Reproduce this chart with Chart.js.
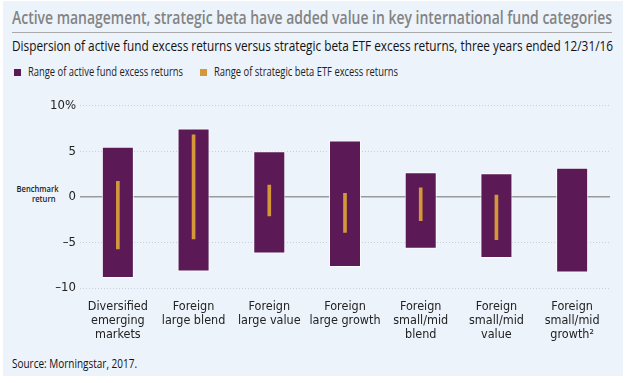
<!DOCTYPE html>
<html>
<head>
<meta charset="utf-8">
<script src="https://cdn.jsdelivr.net/npm/chart.js@4.4.1/dist/chart.umd.min.js"></script>
<style>
  html, body { margin:0; padding:0; background:#ffffff; }
  body { width:628px; height:383px; position:relative; overflow:hidden;
         font-family:"Open Sans","Noto Sans",sans-serif; }
  #panel { position:absolute; left:3px; top:1px; width:620px; height:375px; background:#EDF3FB; }
  .t { position:absolute; white-space:nowrap; transform-origin:0 50%; }
  #title { left:12px; top:5px; font-size:18px; font-weight:600; color:#838383; }
  #rule { position:absolute; left:12px; top:32px; width:600px; height:1px; background:#a9a9a9; }
  #subtitle { left:12px; top:35px; font-size:15px; color:#111; }
  .sw { position:absolute; width:7px; height:7px; top:69px; }
  .lg { top:63px; font-size:12px; color:#222; }
  #bench { position:absolute; left:6px; top:184px; width:50px; text-align:right; font-size:9.5px; line-height:10px; font-weight:600; color:#222; }
  #bench span { display:inline-block; transform:scaleX(0.8); transform-origin:100% 50%; }
  #source { left:12px; top:355px; font-size:12px; color:#111; }
  #wrap { position:absolute; left:0; top:94px; width:628px; height:263px; }
</style>
</head>
<body>
<div id="panel"></div>
<div class="t" id="title" data-w="600">Active management, strategic beta have added value in key international fund categories</div>
<div id="rule"></div>
<div class="t" id="subtitle" data-w="601">Dispersion of active fund excess returns versus strategic beta ETF excess returns, three years ended 12/31/16</div>
<div class="sw" style="left:14px;background:#5B1A55"></div>
<div class="t lg" data-w="155" style="left:28px">Range of active fund excess returns</div>
<div class="sw" style="left:200px;background:#D4973A"></div>
<div class="t lg" data-w="184" style="left:214px">Range of strategic beta ETF excess returns</div>
<div id="bench"><span>Benchmark</span><br><span>return</span></div>
<div class="t" id="source" data-w="125">Source: Morningstar, 2017.</div>
<div id="wrap"><canvas id="c"></canvas></div>
<script>
const categories = [
  ["Diversified","emerging","markets"],
  ["Foreign","large blend"],
  ["Foreign","large value"],
  ["Foreign","large growth"],
  ["Foreign","small/mid","blend"],
  ["Foreign","small/mid","value"],
  ["Foreign","small/mid","growth\u00B2"]
];
const activeLow  = [-8.9, -8.2, -6.2, -7.7, -5.7, -6.7, -8.3];
const activeHigh = [ 5.5,  7.5,  5.0,  6.2,  2.7,  2.6,  3.2];
const etfLow     = [-5.7, -4.6, -2.1, -3.9, -2.6, -4.7, null];
const etfHigh    = [ 1.7,  6.8,  1.3,  0.4,  1.0,  0.2, null];
const yTicks = [-10, -5, 0, 5, 10];
const yTickLabels = {"-10":"\u201310", "-5":"\u20135", "0":"0", "5":"5", "10":"10%"};

document.querySelectorAll('[data-w]').forEach(el => {
  const w = el.getBoundingClientRect().width;
  const target = parseFloat(el.dataset.w);
  el.style.transform = 'scaleX(' + (target / w) + ')';
});

const FONT = '"DejaVu Sans Condensed",sans-serif';

const activeData = activeLow.map((v,i)=>[v, activeHigh[i]]);
const etfData = etfLow.map((v,i)=> v===null ? null : [v, etfHigh[i]]);

new Chart(document.getElementById('c'), {
  type:'bar',
  data:{
    labels: categories,
    datasets:[
      { label:'Range of active fund excess returns', data:activeData, backgroundColor:'#5B1A55',
        borderColor:'rgba(255,255,255,0.85)', borderWidth:1, borderSkipped:false,
        grouped:false, categoryPercentage:1, barPercentage:0.423, order:1 },
      { label:'Range of strategic beta ETF excess returns', data:etfData, backgroundColor:'#D4973A',
        borderWidth:0, grouped:false, barThickness:3, order:0 }
    ]
  },
  options:{
    responsive:true, maintainAspectRatio:false, animation:false,
    devicePixelRatio:1,
    layout:{ padding:{ top:9, right:18, left:0, bottom:0 } },
    plugins:{ legend:{display:false}, tooltip:{enabled:false} },
    scales:{
      x:{
        grid:{ display:false }, border:{ display:false },
        ticks:{ font:{family:FONT, size:12.5, lineHeight:1.12}, color:'#222', padding:4, maxRotation:0, autoSkip:false },
        afterFit: s => { s.height = 69; }
      },
      y:{
        min:-10, max:10,
        afterBuildTicks: s => { s.ticks = yTicks.map(v=>({value:v})); },
        afterFit: s => { s.width = 80; },
        border:{ display:false, dash: ctx => (ctx.tick && ctx.tick.value===0) ? [] : [1,2] },
        grid:{ drawTicks:false,
          color: ctx => ctx.tick && ctx.tick.value===0 ? '#9a9a9a' : '#c9cfd8',
          lineWidth: ctx => ctx.tick && ctx.tick.value===0 ? 1.5 : 1 },
        ticks:{ font:{family:FONT, size:13}, color:'#222', padding:4,
          callback: v => yTickLabels[String(v)] }
      }
    }
  }
});
</script>
</body>
</html>
